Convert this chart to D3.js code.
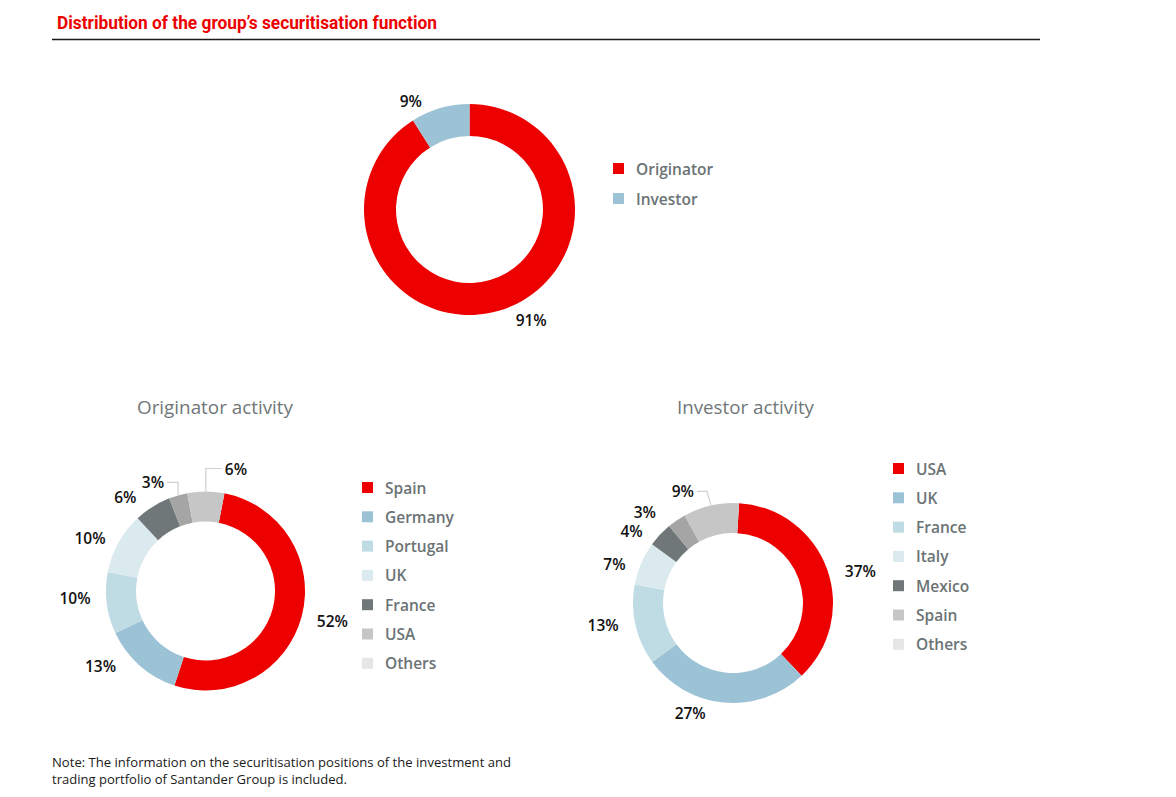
<!DOCTYPE html>
<html><head><meta charset="utf-8">
<script src="https://cdn.jsdelivr.net/npm/d3@7"></script>
<style>
html,body{margin:0;padding:0;background:#fff;}
svg{display:block;}
</style></head>
<body><svg id="chart" width="1176" height="797"></svg>
<script>
// ---------- DATA ----------
const mainCategories = ["Originator", "Investor"];
const mainValues = [91, 9];

const origCategories = ["Spain", "Germany", "Portugal", "UK", "France", "USA", "Others"];
const origValues = [52, 13, 10, 10, 6, 3, 6];

const invCategories = ["USA", "UK", "France", "Italy", "Mexico", "Spain", "Others"];
const invValues = [37, 27, 13, 7, 4, 3, 9];

const titleText = "Distribution of the group\u2019s securitisation function";
const origTitle = "Originator activity";
const invTitle = "Investor activity";
const noteLines = ["Note: The information on the securitisation positions of the investment and",
                   "trading portfolio of Santander Group is included."];

// ---------- STYLE / LAYOUT ----------
const RED = "#ec0000", BLUE = "#9cc3d5", LBLUE = "#bfdbe3", VLBLUE = "#dbeaef",
      DGRAY = "#6f7779", MGRAY = "#a5a5a5", LGRAY = "#c6c6c6", VLGRAY = "#e6e6e6";
const mainSlice = [RED, BLUE];
const sevenSlice = [RED, BLUE, LBLUE, VLBLUE, DGRAY, MGRAY, LGRAY];
const sevenLegend = [RED, BLUE, LBLUE, VLBLUE, DGRAY, LGRAY, VLGRAY];

const svg = d3.select("#chart");
const deg = Math.PI / 180;

// title
svg.append("text").attr("x", 57).attr("y", 29)
  .attr("font-family", "'Liberation Sans Narrow', Roboto, sans-serif")
  .attr("font-weight", "bold").attr("font-size", 18).attr("fill", RED)
  .attr("textLength", 380).attr("lengthAdjust", "spacingAndGlyphs")
  .text(titleText);
svg.append("line").attr("x1", 52).attr("x2", 1040).attr("y1", 39.5).attr("y2", 39.5)
  .attr("stroke", "#1a1a1a").attr("stroke-width", 1.3);

function donut(cfg) {
  const g = svg.append("g").attr("transform", `translate(${cfg.cx},${cfg.cy})`);
  const pie = d3.pie().sort(null).value(d => d)
    .startAngle(cfg.start * deg).endAngle(cfg.start * deg + 2 * Math.PI);
  const arcs = pie(cfg.values);
  const arc = d3.arc().innerRadius(cfg.ri).outerRadius(cfg.ro);
  g.selectAll("path.slice").data(arcs).join("path")
    .attr("class", "slice").attr("d", arc)
    .attr("fill", (d, i) => cfg.colors[i]);

  const fmt = v => v + "%";
  arcs.forEach((d, i) => {
    const mid = (d.startAngle + d.endAngle) / 2;
    const lead = cfg.leaders && cfg.leaders[i];
    if (lead) {
      const x0 = Math.sin(mid) * cfg.ro, y0 = -Math.cos(mid) * cfg.ro;
      const x1 = x0 + lead.dx1, y1 = y0 + lead.dy1;
      const x2 = x1 + lead.dx2;
      g.append("path").attr("d", `M${x0},${y0}L${x1},${y1}L${x2},${y1}`)
        .attr("fill", "none").attr("stroke", "#d0d0d0").attr("stroke-width", 1.2);
      g.append("text").attr("x", x2 + (lead.dx2 < 0 ? -3 : 3)).attr("y", y1)
        .attr("text-anchor", lead.dx2 < 0 ? "end" : "start")
        .attr("dominant-baseline", "central")
        .attr("class", "pct").text(fmt(cfg.values[i]));
    } else {
      const nud = cfg.nudge[i];
      const x = Math.sin(mid) * cfg.lr + nud[0], y = -Math.cos(mid) * cfg.lr + nud[1];
      g.append("text").attr("x", x).attr("y", y)
        .attr("text-anchor", "middle").attr("dominant-baseline", "central")
        .attr("class", "pct").text(fmt(cfg.values[i]));
    }
  });

  // legend
  const lg = svg.append("g").attr("transform", `translate(${cfg.lx},${cfg.ly})`);
  const items = lg.selectAll("g").data(cfg.cats).join("g")
    .attr("transform", (d, i) => `translate(0,${i * cfg.lstep})`);
  items.append("rect").attr("x", 0).attr("y", -5.5).attr("width", 11).attr("height", 11)
    .attr("fill", (d, i) => cfg.lcolors[i]);
  items.append("text").attr("x", 23).attr("y", 0).attr("dominant-baseline", "central")
    .attr("class", "leg").text(d => d);
}

donut({cx: 469.5, cy: 209.5, ro: 105.5, ri: 73.5, start: 0, values: mainValues,
  colors: mainSlice, lr: 128, nudge: [[26, -12], [-23, 14]],
  cats: mainCategories, lcolors: mainSlice, lx: 613, ly: 168.5, lstep: 30});

donut({cx: 205.5, cy: 591, ro: 99.5, ri: 69.5, start: 11, values: origValues,
  colors: sevenSlice, lr: 128,
  nudge: [[3, -2], [-20, -21], [-3.5, -8.6], [-3.5, 9], [-12, 14], [0, 0], [0, 0]],
  leaders: [null, null, null, null, null, {dx1: 0, dy1: -13, dx2: -11}, {dx1: 0, dy1: -23, dx2: 16}],
  cats: origCategories, lcolors: sevenLegend, lx: 362, ly: 487.5, lstep: 29.3});

donut({cx: 733, cy: 603, ro: 100, ri: 70, start: 3.5, values: invValues,
  colors: sevenSlice, lr: 128,
  nudge: [[7, 12], [-31, -17], [-5, -6], [-1, 12], [-8, 15], [-16, 15], [0, 0]],
  leaders: [null, null, null, null, null, null, {dx1: -4, dy1: -14, dx2: -10}],
  cats: invCategories, lcolors: sevenLegend, lx: 893, ly: 468.5, lstep: 29.3});

svg.selectAll("text.pct").attr("font-family", "'Open Sans', sans-serif")
  .attr("font-size", 15.5).attr("font-weight", 600).attr("fill", "#111");
svg.selectAll("text.leg").attr("font-family", "'Open Sans', sans-serif")
  .attr("font-size", 15.5).attr("font-weight", 600).attr("fill", "#6b7375");

// sub titles
[[origTitle, 215, 156], [invTitle, 745.5, 137]].forEach(([t, x, w]) => {
  svg.append("text").attr("x", x).attr("y", 414).attr("text-anchor", "middle")
    .attr("font-family", "'Open Sans', sans-serif").attr("font-size", 19)
    .attr("font-weight", 400).attr("fill", "#6f7779")
    .attr("textLength", w).attr("lengthAdjust", "spacingAndGlyphs").text(t);
});

// note
svg.selectAll("text.note").data(noteLines).join("text").attr("class", "note")
  .attr("x", 52).attr("y", (d, i) => 767 + i * 16.5)
  .attr("font-family", "'Open Sans', sans-serif").attr("font-size", 13)
  .attr("fill", "#1a1a1a")
  .attr("textLength", (d, i) => i === 0 ? 459 : 295).attr("lengthAdjust", "spacingAndGlyphs")
  .text(d => d);
</script></body></html>
